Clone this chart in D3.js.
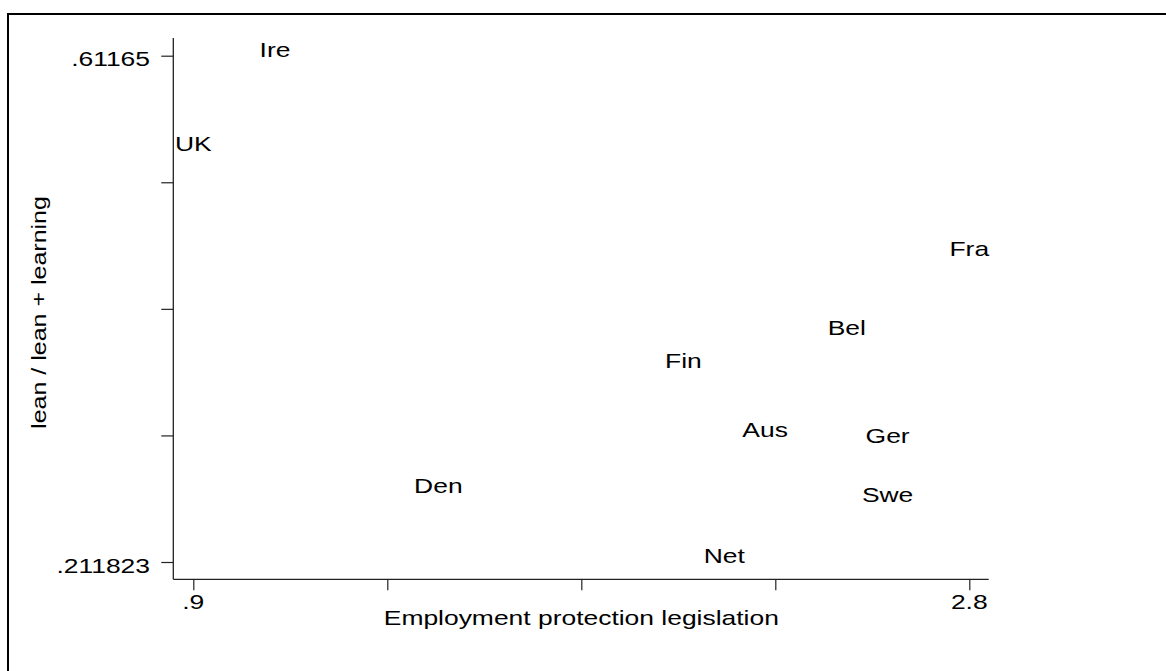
<!DOCTYPE html>
<html>
<head>
<meta charset="utf-8">
<script src="https://cdn.jsdelivr.net/npm/d3@7"></script>
<style>
  html, body { margin: 0; padding: 0; background: #fff; }
  svg { display: block; }
  text { font-family: "Liberation Sans", Arial, Helvetica, sans-serif; fill: #000; }
</style>
</head>
<body>
<svg id="chart" width="1166" height="671"></svg>
<script>
// Country abbreviations (marker labels)
const countries = ["UK", "Ire", "Fra", "Bel", "Fin", "Aus", "Ger", "Swe", "Den", "Net"];
// Employment protection legislation index
const epl = [0.9, 1.1, 2.8, 2.5, 2.1, 2.3, 2.6, 2.6, 1.5, 2.2];
// Share of lean in lean + learning organisation
const leanShare = [0.5377, 0.61165, 0.4545, 0.3921, 0.3658, 0.3113, 0.3066, 0.2605, 0.2671, 0.211823];

const xTickValues = [0.9, 1.375, 1.85, 2.325, 2.8];
const xTickLabels = [".9", "", "", "", "2.8"];
const yTickValues = [0.211823, 0.3117798, 0.4117365, 0.5116933, 0.61165];
const yTickLabels = [".211823", "", "", "", ".61165"];

const xTitle = "Employment protection legislation";
const yTitle = "lean / lean + learning";

// Stata-like text: tall glyphs stretched horizontally
const FS = 20.5, SX = 1.29, SX_ROT = 1.22;

const svg = d3.select("#chart");

// outer graph frame
svg.append("rect")
  .attr("x", 8).attr("y", 14)
  .attr("width", 1200).attr("height", 700)
  .attr("fill", "none").attr("stroke", "#000").attr("stroke-width", 2);

const x = d3.scaleLinear().domain([0.9, 2.8]).range([193.3, 969.3]);
const y = d3.scaleLinear().domain([0.211823, 0.61165]).range([562, 55.7]);

const axisX0 = 173.3, axisY0 = 579.3;

function stretchedText(g, tx, ty, str, anchor, rotate, sx) {
  return g.append("text")
    .attr("transform", `translate(${tx},${ty})` + (rotate ? ` rotate(${rotate})` : "") + ` scale(${sx || SX},1)`)
    .attr("text-anchor", anchor)
    .style("font-size", FS + "px")
    .text(str);
}

// y axis
const gy = svg.append("g").attr("transform", `translate(${axisX0},0)`)
  .call(d3.axisLeft(y).tickValues(yTickValues).tickSize(12).tickFormat(""));
gy.select(".domain").remove();
gy.selectAll(".tick line").attr("stroke", "#222").attr("stroke-width", 1.2);
svg.append("line")
  .attr("x1", axisX0).attr("x2", axisX0).attr("y1", 38).attr("y2", axisY0)
  .attr("stroke", "#222").attr("stroke-width", 1.3);

yTickValues.forEach((v, i) => {
  if (yTickLabels[i]) stretchedText(svg, 150, y(v) + 10.5, yTickLabels[i], "end");
});

// x axis
const gx = svg.append("g").attr("transform", `translate(0,${axisY0})`)
  .call(d3.axisBottom(x).tickValues(xTickValues).tickSize(11).tickFormat(""));
gx.select(".domain").remove();
gx.selectAll(".tick line").attr("stroke", "#222").attr("stroke-width", 1.2);
svg.append("line")
  .attr("x1", axisX0).attr("x2", 988.7).attr("y1", axisY0).attr("y2", axisY0)
  .attr("stroke", "#222").attr("stroke-width", 1.3);

xTickValues.forEach((v, i) => {
  if (xTickLabels[i]) stretchedText(svg, x(v), 609, xTickLabels[i], "middle");
});

// axis titles
stretchedText(svg, 581.3, 625, xTitle, "middle");
stretchedText(svg, 45.5, 312.5, yTitle, "middle", -90, SX_ROT);

// marker labels centred on each observation
countries.forEach((c, i) => {
  stretchedText(svg, x(epl[i]), y(leanShare[i]) + 1.3, c, "middle");
});
</script>
</body>
</html>
